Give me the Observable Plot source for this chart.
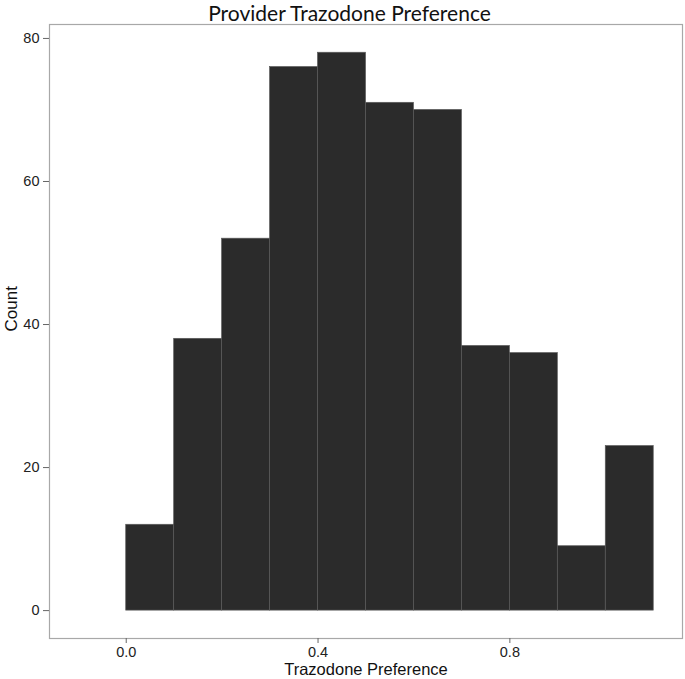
<!DOCTYPE html>
<html>
<head>
<meta charset="utf-8">
<script src="https://cdn.jsdelivr.net/npm/d3@7"></script>
<script src="https://cdn.jsdelivr.net/npm/@observablehq/plot@0.6"></script>
<style>
  body { margin: 0; background: #fff; }
  #title { height: 22px; line-height: 25px; font-family: Lato, "Open Sans", sans-serif; font-size: 21px; color: #111; text-align: center; width: 685px; padding-left: 14px; box-sizing: border-box; white-space: nowrap; }
  #chart svg g[aria-label="y-axis tick label"] text,
  #chart svg g[aria-label="x-axis tick label"] text { font-size: 14.5px; }
</style>
</head>
<body>
<div id="title">Provider Trazodone Preference</div>
<div id="chart"></div>
<script>
const binStarts = [0.0, 0.1, 0.2, 0.3, 0.4, 0.5, 0.6, 0.7, 0.8, 0.9, 1.0];
const binWidth = 0.1;
const counts = [12, 38, 52, 76, 78, 71, 70, 37, 36, 9, 23];
const xTicks = [0.0, 0.4, 0.8];
const yTicks = [0, 20, 40, 60, 80];

const bins = binStarts.map((s, i) => ({x1: s, x2: s + binWidth, count: counts[i]}));

const chart = Plot.plot({
  width: 685,
  height: 657,
  marginTop: 2,
  marginLeft: 49,
  marginRight: 3,
  marginBottom: 41,
  style: {fontFamily: '"Liberation Sans", Arial, sans-serif', fontSize: "14.5px", color: "#222", background: "#fff"},
  x: {domain: [-0.16, 1.16]},
  y: {domain: [-3.9, 81.95]},
  marks: [
    Plot.rectY(bins, {x1: "x1", x2: "x2", y: "count", fill: "#2b2b2b", stroke: "#5a5a5a", strokeWidth: 0.7, insetLeft: 0, insetRight: 0}),
    Plot.frame({stroke: "#a8a8a8", strokeWidth: 1.2}),
    Plot.axisY({ticks: yTicks, tickSize: 6, tickPadding: 4, label: null, fontSize: 14.5, stroke: "#666"}),
    Plot.axisX({ticks: xTicks, tickSize: 5, tickPadding: 3, tickFormat: d3.format(".1f"), label: null, fontSize: 14.5, stroke: "#666"}),
    Plot.text(["Count"], {frameAnchor: "left", dx: -38, rotate: -90, fontSize: 17, fill: "#111", lineAnchor: "middle"}),
    Plot.text(["Trazodone Preference"], {frameAnchor: "bottom", dy: 31.5, fontSize: 16.5, fill: "#111", lineAnchor: "middle"})
  ]
});
document.getElementById("chart").appendChild(chart);
</script>
</body>
</html>
